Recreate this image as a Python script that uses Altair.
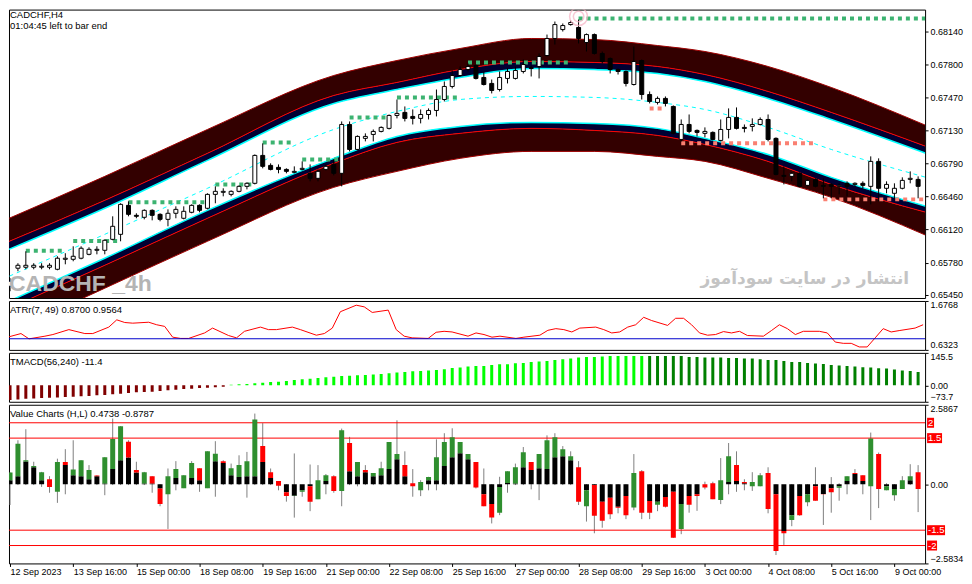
import altair as alt
import pandas as pd

FONT = "Liberation Sans"

# ---------------- main chart: CADCHF H4 candles ----------------
c_open = [0.65539,0.65723,0.65733,0.65733,0.65733,0.65733,0.65712,0.65814,0.65814,0.65825,
          0.65865,0.65906,0.65906,0.66018,0.66069,0.66365,0.66263,0.66243,0.66314,0.66273,
          0.66222,0.66284,0.66233,0.66294,0.66365,0.66335,0.66477,0.66498,0.66477,0.66508,
          0.66559,0.66590,0.66875,0.66773,0.66753,0.66732,0.66702,0.66732,0.66692,0.66641,
          0.66732,0.66783,0.66692,0.67191,0.66936,0.67049,0.67089,0.67120,0.67151,0.67283,
          0.67314,0.67273,0.67253,0.67293,0.67334,0.67446,0.67579,0.67691,0.67752,0.67793,
          0.67671,0.67610,0.67548,0.67661,0.67661,0.67732,0.67773,0.67783,0.67895,0.68069,
          0.68160,0.68211,0.68181,0.68028,0.68109,0.67916,0.67865,0.67752,0.67732,0.67599,
          0.67844,0.67497,0.67416,0.67457,0.67375,0.67038,0.67191,0.67130,0.67100,0.67110,
          0.67028,0.67140,0.67263,0.67161,0.67171,0.67191,0.67242,0.67049,0.66671,0.66661,
          0.66692,0.66569,0.66630,0.66569,0.66579,0.66559,0.66590,0.66579,0.66590,0.66559,
          0.66814,0.66539,0.66488,0.66539,0.66630,0.66630]
c_high = [0.65621,0.65774,0.65896,0.65774,0.65774,0.65774,0.65845,0.65876,0.65947,0.65947,
          0.65937,0.65947,0.66018,0.66253,0.66386,0.66406,0.66284,0.66324,0.66324,0.66284,
          0.66324,0.66355,0.66355,0.66375,0.66375,0.66488,0.66559,0.66539,0.66518,0.66569,
          0.66600,0.66885,0.66998,0.66794,0.66783,0.66743,0.66763,0.66814,0.66783,0.66732,
          0.66783,0.66834,0.67222,0.67222,0.67079,0.67100,0.67140,0.67171,0.67293,0.67446,
          0.67375,0.67344,0.67344,0.67355,0.67548,0.67630,0.67742,0.67783,0.67814,0.67803,
          0.67732,0.67650,0.67732,0.67763,0.67783,0.67854,0.67793,0.67916,0.68109,0.68242,
          0.68222,0.68252,0.68262,0.68120,0.68120,0.67936,0.67875,0.67763,0.67742,0.67987,
          0.67854,0.67528,0.67477,0.67477,0.67385,0.67242,0.67293,0.67140,0.67161,0.67120,
          0.67242,0.67355,0.67365,0.67191,0.67253,0.67263,0.67293,0.67059,0.66763,0.66702,
          0.66702,0.66630,0.66641,0.66641,0.66590,0.66590,0.66610,0.66600,0.66610,0.66865,
          0.66845,0.66610,0.66590,0.66651,0.66712,0.66661]
c_low = [0.65488,0.65692,0.65712,0.65712,0.65712,0.65712,0.65702,0.65763,0.65794,0.65814,
         0.65855,0.65865,0.65865,0.66008,0.65998,0.66253,0.66233,0.66222,0.66212,0.66202,
         0.66151,0.66233,0.66222,0.66284,0.66294,0.66324,0.66386,0.66457,0.66457,0.66498,
         0.66528,0.66579,0.66743,0.66722,0.66692,0.66692,0.66692,0.66722,0.66610,0.66610,
         0.66722,0.66671,0.66559,0.66916,0.66926,0.67018,0.67018,0.67110,0.67140,0.67253,
         0.67222,0.67191,0.67202,0.67242,0.67273,0.67426,0.67559,0.67681,0.67732,0.67650,
         0.67589,0.67508,0.67528,0.67610,0.67650,0.67712,0.67681,0.67661,0.67885,0.68007,
         0.68140,0.68201,0.68018,0.67936,0.67905,0.67814,0.67712,0.67701,0.67579,0.67589,
         0.67446,0.67406,0.67395,0.67375,0.67089,0.67018,0.67100,0.67069,0.67059,0.67028,
         0.67018,0.67049,0.67140,0.67110,0.67120,0.67181,0.67018,0.66671,0.66579,0.66610,
         0.66549,0.66559,0.66549,0.66437,0.66437,0.66477,0.66457,0.66559,0.66539,0.66375,
         0.66406,0.66488,0.66437,0.66528,0.66590,0.66437]
c_close = [0.65590,0.65753,0.65753,0.65753,0.65743,0.65753,0.65825,0.65825,0.65845,0.65927,
           0.65916,0.65916,0.66008,0.66151,0.66375,0.66273,0.66253,0.66314,0.66263,0.66222,
           0.66284,0.66324,0.66304,0.66365,0.66314,0.66477,0.66508,0.66508,0.66508,0.66559,
           0.66590,0.66875,0.66763,0.66732,0.66732,0.66712,0.66712,0.66743,0.66641,0.66712,
           0.66763,0.66692,0.67191,0.66936,0.67069,0.67069,0.67120,0.67161,0.67283,0.67304,
           0.67253,0.67253,0.67293,0.67334,0.67446,0.67579,0.67691,0.67752,0.67783,0.67661,
           0.67599,0.67538,0.67671,0.67732,0.67742,0.67803,0.67763,0.67885,0.68069,0.68211,
           0.68201,0.68232,0.68069,0.68109,0.67916,0.67834,0.67752,0.67732,0.67610,0.67834,
           0.67497,0.67426,0.67457,0.67406,0.67100,0.67191,0.67120,0.67110,0.67120,0.67038,
           0.67140,0.67263,0.67151,0.67151,0.67191,0.67242,0.67038,0.66681,0.66661,0.66692,
           0.66559,0.66620,0.66559,0.66559,0.66559,0.66569,0.66559,0.66590,0.66569,0.66814,
           0.66539,0.66579,0.66539,0.66620,0.66641,0.66559]

# TMA channel, sampled at bar indices
band_idx = [-1, 12, 25, 41, 49, 57, 66, 74, 82, 88, 96, 104, 116]
up_outer = [0.66202,0.66661,0.67140,0.67691,0.67844,0.67967,0.68069,0.68058,0.67997,0.67936,0.67783,0.67569,0.67181]
up_red   = [0.65967,0.66416,0.66896,0.67487,0.67620,0.67752,0.67834,0.67824,0.67783,0.67701,0.67528,0.67314,0.66967]
up_cyan  = [0.65886,0.66335,0.66824,0.67406,0.67548,0.67671,0.67763,0.67752,0.67712,0.67630,0.67457,0.67242,0.66896]
mid_line = [0.65610,0.66069,0.66539,0.67140,0.67324,0.67446,0.67477,0.67467,0.67416,0.67344,0.67161,0.66936,0.66651]
lo_cyan  = [0.65355,0.65825,0.66314,0.66845,0.67069,0.67171,0.67212,0.67202,0.67151,0.67049,0.66885,0.66651,0.66355]
lo_red   = [0.65284,0.65753,0.66233,0.66794,0.67008,0.67100,0.67151,0.67130,0.67079,0.66987,0.66814,0.66579,0.66294]
lo_outer = [0.65039,0.65519,0.65998,0.66549,0.66712,0.66845,0.66916,0.66916,0.66865,0.66814,0.66641,0.66447,0.66059]

# dotted support / resistance levels
lev_start = [2, 8, 15, 26, 32, 37, 43, 49, 58, 72, 81, 85, 103]
lev_end   = [7, 14, 25, 31, 36, 42, 48, 57, 71, 116, 83, 102, 116]
lev_price = [0.65901,0.66000,0.66396,0.66579,0.67008,0.66834,0.67263,0.67467,0.67824,0.68273,0.67355,0.66998,0.66426]
lev_kind  = ["res"]*10 + ["sup"]*3

sig_idx = [72]
sig_price = [0.68293]

main_ticks = [0.6545, 0.6578, 0.6612, 0.6646, 0.6679, 0.6713, 0.6747, 0.6780, 0.6814]

# ---------------- ATR panel ----------------
atr_idx = [0,2,3,5,6,8,10,11,13,14,15,16,18,19,20,21,22,23,25,26,28,29,30,32,33,34,36,37,39,40,
           41,42,44,45,46,48,49,50,51,53,54,55,56,58,59,60,61,62,64,65,67,68,69,70,71,72,74,75,76,77,
           78,79,80,81,83,84,85,86,87,88,89,90,91,92,93,95,96,97,98,99,100,102,103,104,105,106,107,108,109,110,
           111,112,114,115]
atr_val = [0.889,0.981,0.868,0.925,0.960,1.065,0.981,0.981,1.119,1.274,1.217,1.203,1.223,1.169,1.134,0.904,0.877,0.877,0.994,1.098,
           0.939,0.889,1.029,1.119,1.065,1.065,1.119,1.065,0.946,0.981,1.098,1.447,1.587,1.551,1.432,1.482,1.065,0.925,0.889,0.877,
           1.008,1.029,1.015,0.925,0.994,0.960,0.904,0.925,0.877,0.904,0.946,1.050,1.086,1.065,1.015,1.098,1.119,1.065,0.994,1.015,
           1.119,1.169,1.328,1.259,1.155,1.307,1.307,1.169,0.994,0.946,0.960,1.023,0.994,1.029,0.939,0.925,1.044,1.169,1.086,0.960,
           1.029,1.029,0.994,0.799,0.772,0.772,0.695,0.695,0.889,1.086,1.015,1.044,1.098,1.169]
atr_level = 0.87
atr_ticks = [0.6323, 1.6768]

# ---------------- TMACD panel ----------------
tm_val = [-66,-63,-60,-58.5,-57,-55.5,-54,-52.5,-51,-49.5,-48,-45,-43.5,-40.5,-37.5,-34.5,-31.5,-30,-28.5,-25.5,
          -22.5,-19.5,-16.5,-15,-12,-10.5,-9,-6,
          3,4.5,6,9,12,15,16.5,19.5,24,27,30,33,36,39,42,43.5,45,46.5,48,51,54,57,60,63,64.5,66,69,72,78,79.5,84,87,87,
          91.5,94.5,94.5,99,100.5,105,106.5,109.5,114,117,120,124.5,127.5,127.5,129,132,132,132,132,132,
          132,132,132,132,132,127.5,127.5,124.5,124.5,124.5,123,123,120,120,117,114,114,109.5,105,105,
          100.5,97.5,96,91.5,88.5,87,84,81,79.5,76.5,75,70.5,66,64.5,60]
tm_state = ["neg"]*28 + ["up"]*53 + ["down"]*35
tm_ticks = [-73.7, 0, 145.5]

# ---------------- Value Charts panel ----------------
vc_open = [0.13,0.26,0.74,0.55,0.13,0.16,-0.25,0.72,0.29,0.26,0.16,0.28,0.02,0.49,0.78,1.38,0.46,0.02,0.26,-0.14,
           -0.33,0.20,-0.13,0.20,0.52,-0.13,0.75,0.75,0.29,0.23,0.26,0.26,1.24,0.39,0.10,-0.26,-0.39,-0.25,-0.07,-0.49,
           0.10,0.26,-0.22,1.34,0.26,0.46,0.26,0.29,0.49,0.81,0.62,0.03,-0.20,0.13,0.13,0.59,0.88,1.01,0.81,0.72,
           -0.33,-0.65,-0.93,0.04,0.02,0.55,0.72,0.52,0.49,0.88,0.91,0.78,0.55,-0.72,-0.03,-0.57,-0.44,-0.74,-0.39,-0.76,
           0.42,-0.55,-0.67,-0.42,-0.25,-1.46,-0.39,-0.33,0.00,0.03,-0.52,0.07,0.62,0.07,-0.07,-0.07,0.36,-0.33,-1.53,-1.17,
           -0.39,-0.59,-0.07,-0.32,-0.13,-0.12,0.10,0.36,0.29,-0.07,0.98,-0.20,-0.36,-0.16,0.13,0.39]
vc_high = [0.38,1.43,1.79,0.73,0.40,0.26,0.83,1.14,1.43,0.78,0.62,0.29,0.88,2.14,1.89,1.43,0.73,0.40,0.26,0.00,
           0.51,0.75,0.29,0.75,0.52,1.07,1.40,0.78,0.67,0.94,1.05,2.30,1.99,0.51,0.10,0.00,1.00,-0.03,0.64,0.62,
           0.33,0.29,1.81,1.54,0.72,0.62,0.36,0.73,1.37,2.08,1.07,0.49,0.13,0.24,1.46,1.66,1.82,1.37,0.98,0.72,
           0.51,0.00,0.24,0.42,0.67,1.21,0.72,0.98,1.59,1.66,1.24,1.07,0.75,0.00,0.00,0.00,0.00,0.00,0.00,0.98,
           0.46,0.00,0.00,0.00,-0.07,0.00,0.00,0.00,0.08,0.08,0.85,1.34,1.07,0.16,0.39,0.36,0.55,0.00,-1.26,0.00,
           0.00,0.00,0.55,0.00,0.23,0.03,0.26,0.49,0.29,1.68,1.03,0.03,0.00,0.26,0.65,0.62]
vc_low = [-0.68,-0.03,-0.03,-0.03,-0.09,-0.28,-0.61,-0.33,-0.03,-0.03,-0.03,-0.03,-0.36,-0.03,-0.03,-0.03,-0.03,-0.03,-0.28,-0.72,
          -1.46,-0.20,-0.13,-0.03,-0.25,-0.13,-0.41,-0.03,-0.03,-0.03,-0.44,-0.03,-0.03,-0.03,-0.20,-0.57,-1.09,-0.41,-0.88,-0.49,
          -0.33,-0.28,-0.72,-0.03,-0.07,-0.03,-0.03,-0.03,-0.03,-0.03,-0.03,-0.41,-0.39,-0.20,-0.20,-0.03,-0.03,0.59,0.67,-0.14,
          -0.72,-1.28,-1.01,-0.28,-0.03,-0.03,-0.17,-0.52,-0.03,-0.03,-0.03,-0.03,-0.68,-1.22,-1.60,-1.42,-1.14,-0.95,-1.14,-0.85,
          -1.14,-1.14,-0.88,-0.76,-1.75,-1.63,-0.93,-0.87,-0.17,-0.49,-0.65,-0.33,-0.25,-0.20,-0.22,-0.07,-0.95,-2.31,-1.98,-1.37,
          -1.03,-0.72,-0.54,-1.33,-0.93,-0.54,-0.33,-0.03,-0.33,-1.17,-0.78,-0.20,-0.54,-0.16,-0.03,-0.91]
vc_close = [0.38,1.32,0.78,0.59,0.39,-0.09,0.72,0.62,0.48,0.78,0.46,0.26,0.88,1.47,1.89,0.87,0.38,0.39,0.02,-0.65,
            0.26,0.49,0.29,0.69,0.13,1.07,0.99,0.69,0.52,0.62,0.75,2.11,0.72,0.20,-0.05,-0.39,-0.38,-0.20,-0.57,0.13,
            0.29,-0.22,1.76,0.42,0.72,0.39,0.36,0.52,1.37,0.98,0.26,-0.07,0.07,0.23,0.88,1.37,1.53,1.37,0.98,-0.11,
            -0.72,-1.09,-0.09,0.42,0.55,1.04,0.46,0.98,1.43,1.53,1.14,0.91,-0.57,-0.20,-1.03,-1.19,-0.98,-0.77,-1.01,0.36,
            -0.93,-0.93,-0.57,-0.74,-1.75,-0.65,-0.67,-0.39,-0.11,-0.49,0.13,0.91,0.10,0.03,0.07,0.29,-0.81,-2.18,-1.60,-1.01,
            -1.01,-0.33,-0.54,-0.33,-0.26,-0.07,0.26,0.33,0.10,1.49,-0.16,-0.07,-0.16,0.13,0.26,-0.16]
vc_levels = [2, 1.5, -1.5, -2]
vc_level_txt = ["2", "1.5", "-1.5", "-2"]
vc_ticks = [-2.5834, 0, 2.5867]

x_tick_idx = [0, 8, 16, 24, 32, 40, 48, 56, 64, 72, 80, 88, 96, 104, 112]
x_labels = ["12 Sep 2023", "13 Sep 16:00", "15 Sep 00:00", "18 Sep 08:00", "19 Sep 16:00",
            "21 Sep 00:00", "22 Sep 08:00", "25 Sep 16:00", "27 Sep 00:00", "28 Sep 08:00",
            "29 Sep 16:00", "3 Oct 00:00", "4 Oct 08:00", "5 Oct 16:00", "9 Oct 00:00"]

# ---------------- build ----------------
W = 918
H_MAIN, H_ATR, H_TM, H_VC = 289, 49, 49, 159
xs = alt.Scale(domain=[0.5, 115.25], nice=False, zero=False)
ys_main = alt.Scale(domain=[0.65419, 0.68364], nice=False, zero=False)
ys_atr = alt.Scale(domain=[0.6323, 1.6768], nice=False, zero=False)
ys_tm = alt.Scale(domain=[-73.7, 145.5], nice=False, zero=False)
ys_vc = alt.Scale(domain=[-2.5834, 2.5867], nice=False, zero=False)

def right_axis(values, fmt=None, expr=None, flush=False):
    kw = dict(orient="right", values=values, title=None, grid=False, domain=False,
              ticks=True, tickSize=3, tickColor="black", labelColor="black",
              labelFont=FONT, labelFontSize=9, labelPadding=2, labelFlush=flush)
    if fmt:
        kw["format"] = fmt
    if expr:
        kw["labelExpr"] = expr
    return alt.Axis(**kw)

AX_MAIN = right_axis(main_ticks, fmt=".5f")
AX_ATR = right_axis(atr_ticks, fmt=".4f", flush=True)
AX_TM = right_axis(tm_ticks, expr="datum.value == 0 ? '0.00' : format(datum.value, '.1f')", flush=True)
AX_VC = right_axis(vc_ticks, expr="datum.value == 0 ? '0.00' : format(datum.value, '.4f')", flush=True)

x_expr = "[" + ",".join("'" + s + "'" for s in x_labels) + "][indexof(" + str(x_tick_idx) + ", datum.value)]"
AX_X = alt.Axis(values=x_tick_idx, labelExpr=x_expr, title=None, grid=False, domain=False,
                tickSize=3, tickColor="black", labelColor="black", labelFont=FONT, labelFontSize=9,
                labelAlign="left", labelPadding=1, labelFlush=False, labelOverlap=False)

XN = alt.X("i:Q", scale=xs, axis=None)
XV = alt.X("i:Q", scale=xs, axis=AX_X)

def YM(col):
    return alt.Y(col, type="quantitative", scale=ys_main, axis=AX_MAIN)

cdf = pd.DataFrame({"i": list(range(len(c_open))), "o": c_open, "h": c_high, "l": c_low, "c": c_close})
bdf = pd.DataFrame({"i": band_idx, "uo": up_outer, "ur": up_red, "uc": up_cyan, "mid": mid_line,
                    "lc": lo_cyan, "lr": lo_red, "lo": lo_outer})
ldf = pd.DataFrame({"a": lev_start, "b": lev_end, "p": lev_price, "k": lev_kind})
sdf = pd.DataFrame({"i": sig_idx, "p": sig_price})

def band_area(c1, c2, color):
    return alt.Chart(bdf).mark_area(interpolate="monotone", color=color, clip=True).encode(
        x=XN, y=YM(c1), y2=alt.Y2(c2))

def band_line(col, color, width=1.0, dash=None):
    kw = dict(interpolate="monotone", color=color, strokeWidth=width, clip=True)
    if dash:
        kw["strokeDash"] = dash
    return alt.Chart(bdf).mark_line(**kw).encode(x=XN, y=YM(col))

MAROON, NAVY = "#330000", "#000033"
bands = [band_area("uo", "ur", MAROON), band_area("ur", "uc", NAVY),
         band_area("lc", "lr", NAVY), band_area("lr", "lo", MAROON),
         band_line("uo", "#a00000"), band_line("lo", "#a00000"),
         band_line("ur", "#ff0000"), band_line("lr", "#ff0000"),
         band_line("uc", "#00ffff", 1.5), band_line("lc", "#00ffff", 1.5),
         band_line("mid", "#00ffff", 1, [4, 4])]

def level_layer(kind, color):
    return alt.Chart(ldf).transform_filter(alt.datum.k == kind).mark_rule(
        strokeWidth=4, strokeDash=[4, 4], clip=True, color=color).encode(
        x=alt.X("a:Q", scale=xs, axis=None), x2="b:Q", y=YM("p"))

wicks = alt.Chart(cdf).mark_rule(color="black", strokeWidth=1, clip=True).encode(
    x=XN, y=YM("l"), y2="h:Q")
bodies = alt.Chart(cdf).mark_bar(width=4, stroke="black", strokeWidth=1, clip=True).encode(
    x=XN, y=YM("o"), y2="c:Q",
    fill=alt.condition("datum.c >= datum.o", alt.value("white"), alt.value("black")))

sig1 = alt.Chart(sdf).mark_point(shape="circle", size=324, filled=False, color="#f6b3c4",
                                 strokeWidth=1.5, clip=True).encode(x=XN, y=YM("p"))
sig2 = alt.Chart(sdf).mark_point(shape="circle", size=110, filled=False, color="#f6b3c4",
                                 strokeWidth=1.5, clip=True).encode(x=XN, y=YM("p"))

def label(text, x, y, size=9.5, color="black", weight="normal", align="left", font=FONT, baseline="middle"):
    return alt.Chart(pd.DataFrame({"t": [text]})).mark_text(
        align=align, baseline=baseline, font=font, fontSize=size, color=color, fontWeight=weight).encode(
        x=alt.value(x), y=alt.value(y), text="t:N")

main = alt.layer(
    *bands, level_layer("res", "#3cb371"), level_layer("sup", "#fa8072"), wicks, bodies, sig1, sig2,
    label("CADCHF _4h", 0, 282, size=23, color="#b4b4b4", weight="bold", baseline="alphabetic"),
    label("انتشار در سایت سودآموز", 902, 275, size=17, color="#c4c4c4", weight="bold",
          align="right", font="DejaVu Sans", baseline="alphabetic"),
    label("CADCHF,H4", 1, 5),
    label("01:04:45 left to bar end", 1, 16),
).properties(width=W, height=H_MAIN)

# ATR panel
adf = pd.DataFrame({"i": atr_idx, "v": atr_val})
atr = alt.layer(
    alt.Chart(adf).mark_line(color="#ff0000", strokeWidth=1, clip=True).encode(
        x=XN, y=alt.Y("v:Q", scale=ys_atr, axis=AX_ATR)),
    alt.Chart(pd.DataFrame({"v": [atr_level]})).mark_rule(color="#0000cc", strokeWidth=1).encode(
        y=alt.Y("v:Q", scale=ys_atr, axis=AX_ATR)),
    label("ATRr(7, 49) 0.8700 0.9564", 1, 9),
).properties(width=W, height=H_ATR)

# TMACD panel
tdf = pd.DataFrame({"i": list(range(len(tm_val))), "v": tm_val, "s": tm_state})

def tm_layer(state, color):
    return alt.Chart(tdf).transform_filter(alt.datum.s == state).mark_bar(width=3, clip=True, color=color).encode(
        x=XN, y=alt.Y("v:Q", scale=ys_tm, axis=AX_TM), y2=alt.datum(0))

tm = alt.layer(
    tm_layer("neg", "#800000"), tm_layer("up", "#00ff00"), tm_layer("down", "#008000"),
    label("TMACD(56,240) -11.4", 1, 9),
).properties(width=W, height=H_TM)

# Value Charts panel
vdf = pd.DataFrame({"i": list(range(len(vc_open))), "o": vc_open, "h": vc_high, "l": vc_low, "c": vc_close})
vdf["same"] = vdf.o * vdf.c > 0
vdf["near"] = vdf.o.where(vdf.o.abs() < vdf.c.abs(), vdf.c)
vdf["zero"] = 0.0
black_df = vdf[vdf.same]
lvdf = pd.DataFrame({"v": vc_levels, "t": vc_level_txt})
box_paths = ["M0,-1H1.4V1H0Z", "M0,-1H3V1H0Z", "M0,-1H3.6V1H0Z", "M0,-1H2V1H0Z"]

def YV(col):
    return alt.Y(col, type="quantitative", scale=ys_vc, axis=AX_VC)

vc = alt.layer(
    alt.Chart(vdf).mark_rule(color="#808080", strokeWidth=1, clip=True).encode(
        x=XV, y=YV("l"), y2="h:Q"),
    alt.Chart(lvdf).mark_rule(color="#ff0000", strokeWidth=1).encode(y=YV("v")),
    alt.Chart(black_df).mark_bar(width=5, color="black", clip=True).encode(
        x=XV, y=YV("zero"), y2="near:Q"),
    alt.Chart(vdf).mark_bar(width=5, clip=True).encode(
        x=XV, y=YV("o"), y2="c:Q",
        color=alt.condition("datum.c >= datum.o", alt.value("#2f8f2f"), alt.value("#ff0000"))),
    alt.Chart(lvdf).mark_point(filled=True, size=100, color="#ff0000", opacity=1, strokeWidth=0).encode(
        x=alt.value(W + 2), y=YV("v"),
        shape=alt.Shape("t:N", scale=alt.Scale(domain=vc_level_txt, range=box_paths), legend=None)),
    alt.Chart(lvdf).mark_text(align="left", baseline="middle", font=FONT, fontSize=9.5, color="white").encode(
        x=alt.value(W + 3), y=YV("v"), text="t:N"),
    label("Value Charts (H,L) 0.4738 -0.8787", 1, 9),
).properties(width=W, height=H_VC)

chart = alt.vconcat(main, atr, tm, vc, spacing=3, bounds="flush").properties(
    padding=0, background="white"
).configure_view(stroke="black", strokeWidth=1)

chart.save("out.html", embed_options={"renderer": "svg", "actions": False})
